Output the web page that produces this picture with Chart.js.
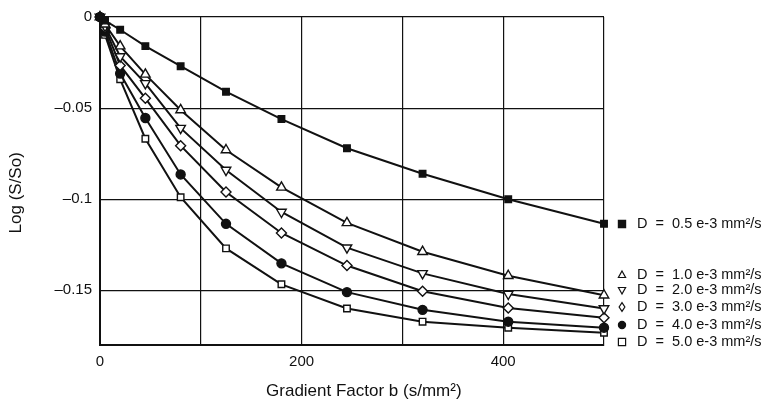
<!DOCTYPE html>
<html>
<head>
<meta charset="utf-8">
<script src="https://cdn.jsdelivr.net/npm/chart.js@4.4.0/dist/chart.umd.min.js"></script>
<style>
  html, body { margin: 0; padding: 0; background: #fff; }
  #wrap { width: 765px; height: 405px; }
</style>
</head>
<body>
<div id="wrap"><canvas id="chart" width="765" height="405"></canvas></div>
<script>
'use strict';

// Gradient factor b (s/mm2) — sampled as 5*n^2
const bValues = [0, 5, 20, 45, 80, 125, 180, 245, 320, 405, 500];

// Log(S/So) for each diffusion coefficient
const d05 = [0, -0.002, -0.007, -0.016, -0.027, -0.041, -0.056, -0.072, -0.086, -0.100, -0.1135];
const d10 = [0, -0.004, -0.016, -0.0315, -0.051, -0.073, -0.0935, -0.113, -0.1288, -0.142, -0.1527];
const d20 = [0, -0.005, -0.0217, -0.0364, -0.061, -0.084, -0.107, -0.1266, -0.1407, -0.152, -0.160];
const d30 = [0, -0.006, -0.0266, -0.0446, -0.0706, -0.096, -0.1185, -0.1364, -0.1505, -0.1597, -0.165];
const d40 = [0, -0.008, -0.031, -0.0554, -0.0864, -0.1135, -0.1352, -0.151, -0.1607, -0.1672, -0.1705];
const d50 = [0, -0.0098, -0.0342, -0.0668, -0.0989, -0.127, -0.1467, -0.160, -0.1672, -0.1705, -0.1733];

const seriesLabels = [
  'D  =  0.5 e-3 mm²/s',
  'D  =  1.0 e-3 mm²/s',
  'D  =  2.0 e-3 mm²/s',
  'D  =  3.0 e-3 mm²/s',
  'D  =  4.0 e-3 mm²/s',
  'D  =  5.0 e-3 mm²/s',
];

const xTicks = [0, 100, 200, 300, 400, 500];
const xTickLabels = ['0', '', '200', '', '400', ''];
const yTicks = [0, -0.05, -0.1, -0.15];
const yTickLabels = ['0', '\u20130.05', '\u20130.1', '\u20130.15'];

const INK = '#111';
const FONT = "'Liberation Sans', Arial, Helvetica, sans-serif";

// marker look per series: style, rotation, filled?
const markers = [
  { style: 'rect', rotation: 0, filled: true, radius: 4.6 },
  { style: 'triangle', rotation: 0, filled: false, radius: 5.5 },
  { style: 'triangle', rotation: 180, filled: false, radius: 5.5 },
  { style: 'rectRot', rotation: 0, filled: false, radius: 5 },
  { style: 'circle', rotation: 0, filled: true, radius: 4.5 },
  { style: 'rect', rotation: 0, filled: false, radius: 4.6 },
];

const seriesValues = [d05, d10, d20, d30, d40, d50];

const datasets = seriesValues.map((values, i) => {
  const m = markers[i];
  return {
    label: seriesLabels[i],
    data: values.map((y, j) => ({ x: bValues[j], y })),
    borderColor: INK,
    borderWidth: 2,
    pointStyle: m.style,
    pointRotation: m.rotation,
    pointRadius: m.radius,
    pointBackgroundColor: m.filled ? INK : '#fff',
    pointBorderColor: INK,
    pointBorderWidth: 1.4,
    tension: 0,
    clip: false,
  };
});

// Legend at the right, spaced like the original figure
const sideLegend = {
  id: 'sideLegend',
  afterDraw(chart) {
    const { ctx, chartArea } = chart;
    const offsets = [-121, -70, -55, -38, -20, -3]; // from bottom of plot
    ctx.save();
    ctx.font = `14.5px ${FONT}`;
    ctx.textBaseline = 'middle';
    seriesLabels.forEach((label, i) => {
      const y = chartArea.bottom + offsets[i];
      drawMarker(ctx, markers[i], chartArea.right + 18, y, 3.6);
      ctx.fillStyle = INK;
      ctx.fillText(label, chartArea.right + 33, y);
    });
    ctx.restore();
  }
};

function drawMarker(ctx, m, x, y, r) {
  ctx.save();
  ctx.translate(x, y);
  ctx.rotate(m.rotation * Math.PI / 180);
  ctx.beginPath();
  if (m.style === 'rect') {
    ctx.rect(-r, -r, 2 * r, 2 * r);
  } else if (m.style === 'circle') {
    ctx.arc(0, 0, r, 0, Math.PI * 2);
  } else if (m.style === 'rectRot') {
    ctx.moveTo(0, -r * 1.2);
    ctx.lineTo(r * 0.8, 0);
    ctx.lineTo(0, r * 1.2);
    ctx.lineTo(-r * 0.8, 0);
    ctx.closePath();
  } else if (m.style === 'triangle') {
    ctx.moveTo(0, -r * 1.1);
    ctx.lineTo(r, r * 0.7);
    ctx.lineTo(-r, r * 0.7);
    ctx.closePath();
  }
  ctx.fillStyle = m.filled ? INK : '#fff';
  ctx.fill();
  ctx.lineWidth = 1.2;
  ctx.strokeStyle = INK;
  ctx.stroke();
  ctx.restore();
}

new Chart(document.getElementById('chart'), {
  type: 'line',
  data: { datasets },
  options: {
    responsive: false,
    animation: false,
    layout: { padding: { top: 13, right: 161, left: 0, bottom: 0 } },
    plugins: {
      legend: { display: false },
      tooltip: { enabled: false },
    },
    scales: {
      x: {
        type: 'linear',
        min: 0,
        max: 500,
        afterBuildTicks: scale => { scale.ticks = xTicks.map(value => ({ value })); },
        afterFit: scale => { scale.height = 60; },
        grid: { color: INK, lineWidth: 1.2, drawTicks: false },
        border: { color: INK, width: 2 },
        ticks: {
          padding: 8,
          color: INK,
          font: { family: FONT, size: 15 },
          maxRotation: 0,
          callback: (v, i) => xTickLabels[i],
        },
        title: {
          display: true,
          // leading spaces nudge the centred title right, as in the original
          text: '     Gradient Factor b (s/mm²)',
          color: INK,
          font: { family: FONT, size: 17 },
          padding: { top: 0, bottom: 3 },
        },
      },
      y: {
        type: 'linear',
        min: -0.18,
        max: 0,
        afterBuildTicks: scale => { scale.ticks = yTicks.map(value => ({ value })); },
        afterFit: scale => { scale.width = 100; },
        grid: { color: INK, lineWidth: 1.2, drawTicks: false },
        border: { color: INK, width: 2 },
        ticks: {
          padding: 8,
          color: INK,
          font: { family: FONT, size: 15 },
          callback: (v, i) => yTickLabels[i],
        },
        title: {
          display: true,
          // trailing spaces push the rotated title a little lower
          text: 'Log (S/So)     ',
          color: INK,
          font: { family: FONT, size: 17 },
          padding: { top: 6, bottom: 0 },
        },
      },
    },
  },
  plugins: [sideLegend],
});
</script>
</body>
</html>
